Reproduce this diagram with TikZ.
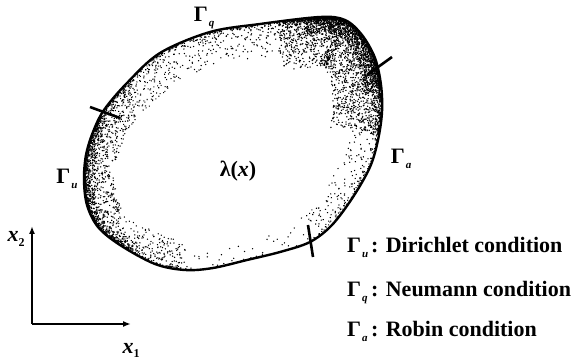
\documentclass[tikz,border=0pt]{standalone}
\usepackage{fontspec}
\setmainfont{Liberation Serif}
\usetikzlibrary{arrows.meta, decorations.markings}

% boundary part label: Gamma with a small lowered index
\newcommand\gsub[1]{Γ\kern1pt\raisebox{-0.45ex}{\fontsize{11}{12}\selectfont\itshape #1}}
% a few random dots just inside the boundary
\newcommand\stip[2]{\foreach \k in {1,...,#1}{%
    \pgfmathsetmacro\rr{rnd}\pgfmathsetmacro\dd{1.2+#2*\rr*\rr}%
    \fill (rand*3,\dd) circle[radius=0.75pt];}}

\begin{document}
\begin{tikzpicture}[x=1pt, y=-1pt,
    lbl/.style={font=\fontsize{22}{26}\selectfont\bfseries, inner sep=0pt},
    tickmark/.style={line width=2.6pt},
    axis/.style={line width=1.8pt, -{Latex[length=8pt, width=6pt]}},
    stipple/.style n args={5}{decoration={markings,
        mark=between positions #1 and #2 step #3 with {\stip{#4}{#5}}}, decorate},
  ]
  \useasboundingbox (0,0) rectangle (573,363);
  \pgfmathsetseed{7}
  % the closed curve is traced from its second point on
  \def\blob{plot[smooth cycle, tension=0.55] coordinates {
      (127,83) (160,53) (210,32) (260,24) (320,17) (345,20) (362,35) (375,58)
      (381,85) (382,112) (378,140) (370,167) (353,197) (332,225) (310,242)
      (280,252) (247,260) (213,268) (185,270) (155,264) (120,245) (98,227)
      (87,205) (84,180) (86,155) (93,132) (104,110)}}
  % stippled shading, densest in the upper right
  \begin{scope}
    \clip \blob;
    \path[stipple={0}{0.14}{0.0015}{3}{32}] \blob;
    \path[stipple={0.14}{0.36}{0.001}{10}{48}] \blob;
    \path[stipple={0.17}{0.31}{0.001}{8}{16}] \blob;
    \path[stipple={0.36}{0.5}{0.0015}{2}{28}] \blob;
    \path[stipple={0.5}{0.66}{0.004}{1}{18}] \blob;
    \path[stipple={0.66}{0.77}{0.0015}{4}{28}] \blob;
    \path[stipple={0.77}{0.95}{0.001}{5}{30}] \blob;
    \path[stipple={0.72}{0.9}{0.0015}{4}{10}] \blob;
    \path[stipple={0.95}{1}{0.0015}{4}{32}] \blob;
  \end{scope}
  \draw[line width=2.4pt] \blob;
  % ticks between the boundary parts
  \draw[tickmark] (90,107) -- (120,118);
  \draw[tickmark] (367,75) -- (392,57);
  \draw[tickmark] (308,225) -- (313,257);
  % labels
  \node[lbl, anchor=base] (gq) at (204,22) {\gsub{q}};
  \node[lbl, anchor=base] (gu) at (67,184) {\gsub{u}};
  \node[lbl, anchor=base] (ga) at (401,164) {\gsub{a}};
  \node[lbl, anchor=base] (lam) at (238,177) {λ(\textit{x})};
  % axes
  \coordinate (origin) at (32,324);
  \coordinate (x1tip) at (131,324);
  \coordinate (x2tip) at (32,226);
  \draw[axis] (origin) -- (x1tip);
  \draw[axis] (origin) -- (x2tip);
  \node[lbl, anchor=base] (xtwo) at (16,242) {\textit{x}\raisebox{-0.4ex}{\fontsize{12}{12}\selectfont 2}};
  \node[lbl, anchor=base] (xone) at (131,353) {\textit{x}\raisebox{-0.4ex}{\fontsize{12}{12}\selectfont 1}};
  % legend
  \foreach \s/\txt/\yy in {u/Dirichlet/253, q/Neumann/297, a/Robin/337} {
    \node[lbl, anchor=base west] (g\s) at (347,\yy) {\gsub{\s}};
    \node[lbl, anchor=base west] (c\s) at (371,\yy) {: \txt\ condition};
  }
\end{tikzpicture}
\end{document}
